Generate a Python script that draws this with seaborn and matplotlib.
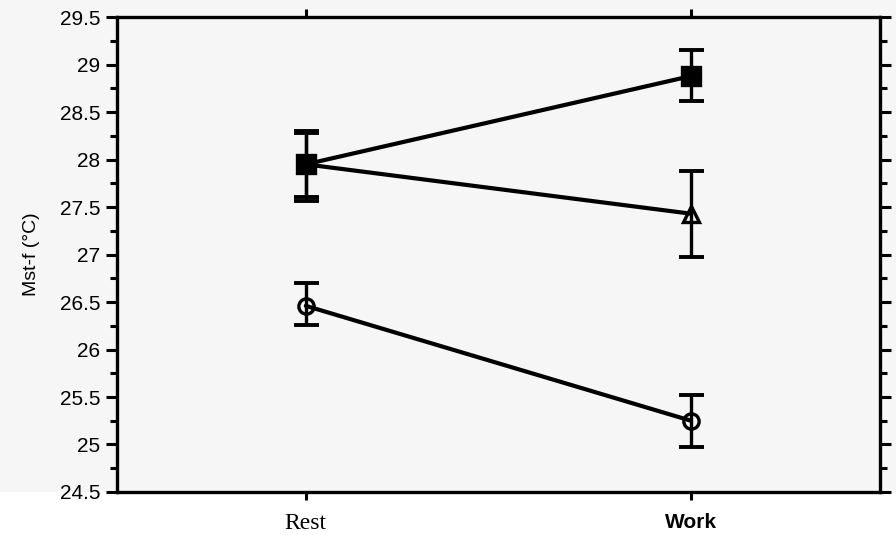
import numpy as np
import pandas as pd
import matplotlib.pyplot as plt
import seaborn as sns

# values (Mst-f in deg C)
conditions = ["Rest", "Work"]
series = ["square", "triangle", "circle"]
square_mean = [27.95, 28.88]
square_lo = [27.61, 28.62]
square_hi = [28.30, 29.15]
triangle_mean = [27.95, 27.43]
triangle_lo = [27.56, 26.97]
triangle_hi = [28.28, 27.88]
circle_mean = [26.46, 25.25]
circle_lo = [26.26, 24.97]
circle_hi = [26.70, 25.52]

means = {"square": square_mean, "triangle": triangle_mean, "circle": circle_mean}
lows = {"square": square_lo, "triangle": triangle_lo, "circle": circle_lo}
highs = {"square": square_hi, "triangle": triangle_hi, "circle": circle_hi}
marker_style = {"square": ("s", "black", 13), "triangle": ("^", "none", 12), "circle": ("o", "none", 11)}

x_pos = np.arange(len(conditions))
df = pd.DataFrame({
    "x": np.tile(x_pos, len(series)),
    "value": np.concatenate([means[s] for s in series]),
    "series": np.repeat(series, len(conditions)),
})

sns.set_style("ticks")
plt.rcParams["font.family"] = ["Liberation Sans", "DejaVu Sans"]
plt.rcParams.update({
    "text.color": "black", "axes.labelcolor": "black", "axes.edgecolor": "black",
    "xtick.color": "black", "ytick.color": "black",
})

fig = plt.figure(figsize=(8.96, 5.35), dpi=100, facecolor="#f6f6f6")
ax = fig.add_axes([0.1306, 0.0804, 0.8514, 0.8876])
ax.set_facecolor("#f6f6f6")
fig.add_artist(plt.Rectangle((0, 0), 1, 0.0804, transform=fig.transFigure,
                             color="white", zorder=-1))

sns.lineplot(data=df, x="x", y="value", hue="series", units="series",
             palette={s: "black" for s in series}, linewidth=3.0,
             legend=False, estimator=None, ax=ax)

for s in series:
    m, fc, ms = marker_style[s]
    mean = np.array(means[s])
    yerr = [mean - np.array(lows[s]), np.array(highs[s]) - mean]
    ax.errorbar(x_pos, mean, yerr=yerr, fmt="none", ecolor="black",
                elinewidth=2.4, capsize=9, capthick=2.8, zorder=3)
    ax.plot(x_pos, mean, linestyle="none", marker=m, markersize=ms,
            markerfacecolor=fc, markeredgecolor="black", markeredgewidth=2.4,
            zorder=4)

ax.set_xlim(-0.49, 1.49)
ax.set_ylim(24.5, 29.5)
yt = np.arange(24.5, 29.51, 0.5)
ax.set_yticks(yt)
ax.set_yticklabels([f"{v:g}" for v in yt], fontsize=15)
ax.set_yticks(np.arange(24.75, 29.5, 0.5), minor=True)
ax.set_xticks(x_pos)
ax.set_xticklabels(conditions)
labels = ax.get_xticklabels()
labels[0].set_fontfamily("Liberation Serif")
labels[0].set_fontsize(17)
labels[1].set_fontsize(15)
labels[1].set_fontweight("bold")

ax.tick_params(axis="y", which="major", direction="out", length=8, width=2.2,
               pad=4, left=True, right=True)
ax.tick_params(axis="y", which="minor", direction="out", length=5, width=2.2,
               left=True, right=True)
ax.tick_params(axis="x", direction="out", length=6, width=2.2, pad=9,
               top=True, bottom=True)

for side in ["left", "bottom", "top", "right"]:
    ax.spines[side].set_visible(True)
    ax.spines[side].set_linewidth(2.4)

ax.set_xlabel("")
ax.set_ylabel("Mst-f (\u00b0C)", fontsize=14, labelpad=14)

fig.savefig("out.png", dpi=100, facecolor=fig.get_facecolor())
